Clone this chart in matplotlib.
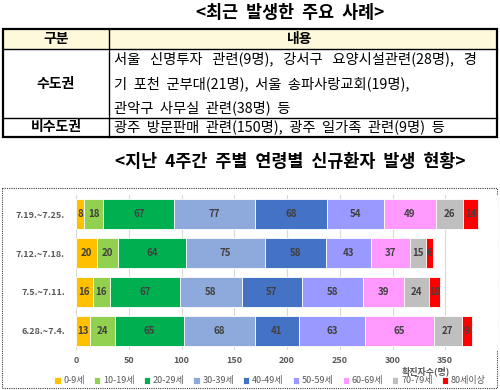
import matplotlib.pyplot as plt
from matplotlib.patches import Rectangle
import numpy as np

plt.rcParams['font.family'] = ['Noto Sans CJK KR', 'DejaVu Sans']

# table content
title_cases = '<최근  발생한  주요  사례>'
table_head = ['구분', '내용']
region_names = ['수도권', '비수도권']
metro_lines = ['서울   신명투자   관련(9명),   강서구   요양시설관련(28명),   경',
               '기  포천  군부대(21명),  서울  송파사랑교회(19명),',
               '관악구  사무실  관련(38명)  등']
nonmetro_line = '광주  방문판매  관련(150명),  광주  일가족  관련(9명)  등'

# chart data
title_chart = '<지난  4주간  주별  연령별  신규환자  발생  현황>'
weeks = ['7.19.~7.25.', '7.12.~7.18.', '7.5.~7.11.', '6.28.~7.4.']
age_groups = ['0-9세', '10-19세', '20-29세', '30-39세', '40-49세',
              '50-59세', '60-69세', '70-79세', '80세이상']
counts = np.array([
    [8, 18, 67, 77, 68, 54, 49, 26, 14],
    [20, 20, 64, 75, 58, 43, 37, 15, 6],
    [16, 16, 67, 58, 57, 58, 39, 24, 10],
    [13, 24, 65, 68, 41, 63, 65, 27, 9],
])
colors = ['#FFC000', '#92D050', '#00B050', '#8EA9DB', '#4472C4',
          '#9999FF', '#FF99FF', '#BFBFBF', '#FF0000']

fig = plt.figure(figsize=(5, 3.9), dpi=100)

# overlay in pixel coordinates for the table and titles
ov = fig.add_axes([0, 0, 1, 1])
ov.set_xlim(0, 500)
ov.set_ylim(390, 0)
ov.axis('off')

ov.text(290, 13, title_cases, ha='center', va='center', fontsize=12.5, fontweight='bold')

ov.add_patch(Rectangle((3, 29), 494, 20, facecolor='#FFF9DB', edgecolor='none'))
ov.add_patch(Rectangle((3, 29), 494, 108, facecolor='none', edgecolor='black', lw=1.6))
ov.plot([3, 497], [49, 49], color='black', lw=1.0)
ov.plot([3, 497], [118, 118], color='black', lw=1.0)
ov.plot([109, 109], [29, 137], color='black', lw=1.0)

ov.text(56, 39, table_head[0], ha='center', va='center', fontsize=10, fontweight='bold')
ov.text(300, 39, table_head[1], ha='center', va='center', fontsize=10, fontweight='bold')
ov.text(56, 84, region_names[0], ha='center', va='center', fontsize=10, fontweight='bold')
ov.text(56, 127, region_names[1], ha='center', va='center', fontsize=10, fontweight='bold')
for i, line in enumerate(metro_lines):
    ov.text(114, 59 + i * 24.5, line, ha='left', va='center', fontsize=10.3)
ov.text(114, 127, nonmetro_line, ha='left', va='center', fontsize=10.3)

ov.text(290, 162, title_chart, ha='center', va='center', fontsize=12.5, fontweight='bold')

ov.add_patch(Rectangle((2, 188), 495, 200, facecolor='none', edgecolor='#404040',
                       lw=0.8, linestyle=(0, (1, 1))))

# stacked bar chart
ax = fig.add_axes([76 / 500, 40 / 390, 422 / 500, 155 / 390])
y = np.arange(len(weeks))
left = np.zeros(len(weeks))
handles = []
for j, age in enumerate(age_groups):
    bars = ax.barh(y, counts[:, j], left=left, height=0.78, color=colors[j],
                   edgecolor='white', linewidth=0.6, label=age, zorder=3)
    handles.append(bars)
    for k in range(len(weeks)):
        ax.text(left[k] + counts[k, j] / 2, y[k], str(counts[k, j]), ha='center',
                va='center', fontsize=7, fontweight='bold', color='#404040', zorder=4)
    left += counts[:, j]

ax.set_xlim(0, 400)
ax.set_ylim(3.5, -0.5)
ax.set_xticks(np.arange(0, 351, 50))
ax.set_yticks(y)
ax.set_yticklabels(weeks, fontsize=6.5, fontweight='bold', color='#595959')
ax.tick_params(axis='x', labelsize=6.5, colors='#595959', length=0, pad=4)
ax.tick_params(axis='y', length=0, pad=8)
for tl in ax.get_xticklabels():
    tl.set_fontweight('bold')
ax.grid(axis='x', color='#D9D9D9', lw=0.8, zorder=0)
for s in ax.spines.values():
    s.set_visible(False)

ov.text(426, 371, '확진자수(명)', ha='center', va='center', fontsize=6.5,
        fontweight='bold', color='#595959')

fig.legend(handles=handles, labels=age_groups, loc='center', bbox_to_anchor=(270 / 500, 1 - 381 / 390),
           ncol=9, frameon=False, fontsize=6.5, handlelength=0.7, handleheight=0.7,
           handletextpad=0.3, columnspacing=1.0, labelcolor='#595959')

fig.savefig('out.png', dpi=100)
